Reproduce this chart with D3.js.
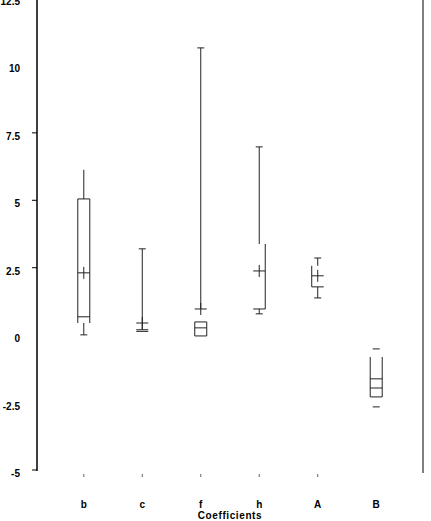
<!DOCTYPE html>
<html>
<head>
<meta charset="utf-8">
<script src="https://cdn.jsdelivr.net/npm/d3@7"></script>
<style>
  body { margin: 0; background: #fff; }
  text { font-family: "Liberation Sans", Arial, sans-serif; font-weight: bold; font-size: 10px; fill: #000; }
</style>
</head>
<body>
<svg id="chart"></svg>
<script>
const width = 431;
const height = 521;

// coefficient estimates
const categories = ["b", "c", "f", "h", "A", "B"];
const maxs    = [6.13, 3.2, 10.65, 6.98, 2.86, -0.51];
const q3s     = [5.05, 0.2, 0.49, 3.38, 2.57, -0.81];
const medians = [0.68, 0.17, 0.27, 0.97, 2.2, -1.62];
const q1s     = [0.45, 0.14, -0.03, 0.97, 1.79, -2.29];
const mins    = [0.01, 0.14, -0.03, 0.79, 1.38, -2.66];
const means   = [2.31, 0.45, 0.97, 2.38, 2.2, -1.96];

// which pieces of each box actually show up in the original
const drawnParts = [
  ["whHi", "top", "left", "right", "med", "mean", "whLo", "capLo"],
  ["capHi", "whHi", "top", "bot", "mean"],
  ["capHi", "whHiToMean", "top", "bot", "left", "right", "med", "mean"],
  ["capHi", "whHi", "right", "bot", "mean", "whLo", "capLo"],
  ["capHi", "whHi", "left", "bot", "mean", "whLo", "capLo"],
  ["capHi", "left", "right", "bot", "med", "meanBar", "capLo"]
];

const yTicks = [12.5, 10, 7.5, 5, 2.5, 0, -2.5, -5];
const yTickLabels = ["12.5", "10", "7.5", "5", "2.5", "0", "-2.5", "-5"];
const yTickMarks = [7.5, 5, 2.5, -5];
const xTickMarks = ["b", "c", "f", "h", "A"];
const xTitle = "Coefficients";

const left = 37, right = 423, bottom = 471;

const svg = d3.select("#chart")
  .attr("width", width)
  .attr("height", height);

const x = d3.scalePoint()
  .domain(categories)
  .range([left, right])
  .padding(0.8);

const y = d3.scaleLinear()
  .domain([-5, 12.5])
  .range([470, -2]);

// frame
svg.append("line")
  .attr("x1", left).attr("x2", left)
  .attr("y1", 0).attr("y2", bottom)
  .attr("stroke", "#000").attr("stroke-width", 1.5);

svg.append("line")
  .attr("x1", right).attr("x2", right)
  .attr("y1", 0).attr("y2", bottom + 2)
  .attr("stroke", "#000").attr("stroke-width", 1);

// y axis
svg.selectAll(".ytick")
  .data(yTickMarks)
  .enter().append("line")
  .attr("class", "ytick")
  .attr("x1", left - 5).attr("x2", left)
  .attr("y1", d => y(d)).attr("y2", d => y(d))
  .attr("stroke", "#000");

svg.selectAll(".ylabel")
  .data(yTicks)
  .enter().append("text")
  .attr("class", "ylabel")
  .attr("x", 20)
  .attr("y", d => y(d) + 7)
  .attr("text-anchor", "end")
  .text((d, i) => yTickLabels[i]);

// x axis
svg.selectAll(".xtick")
  .data(xTickMarks)
  .enter().append("line")
  .attr("class", "xtick")
  .attr("x1", d => x(d)).attr("x2", d => x(d))
  .attr("y1", 474).attr("y2", 477)
  .attr("stroke", "#666");

svg.selectAll(".xlabel")
  .data(categories)
  .enter().append("text")
  .attr("class", "xlabel")
  .attr("x", d => x(d))
  .attr("y", 507.5)
  .attr("text-anchor", "middle")
  .text(d => d);

svg.append("text")
  .attr("x", (left + right) / 2)
  .attr("y", 519)
  .attr("text-anchor", "middle")
  .style("letter-spacing", "0.6px")
  .text(xTitle);

// boxes
const half = 6, cap = 3.5, arm = 6;

categories.forEach((cat, i) => {
  const cx = x(cat);
  const g = svg.append("g").attr("stroke", "#222").attr("stroke-width", 1).attr("fill", "none");
  const parts = drawnParts[i];
  const seg = (x1, y1, x2, y2) => g.append("line")
    .attr("x1", x1).attr("y1", y1).attr("x2", x2).attr("y2", y2);

  parts.forEach(p => {
    if (p === "capHi") seg(cx - cap, y(maxs[i]), cx + cap, y(maxs[i]));
    if (p === "whHi") seg(cx, y(maxs[i]), cx, y(q3s[i]));
    if (p === "whHiToMean") seg(cx, y(maxs[i]), cx, y(means[i]));
    if (p === "top") seg(cx - half, y(q3s[i]), cx + half, y(q3s[i]));
    if (p === "bot") seg(cx - half, y(q1s[i]), cx + half, y(q1s[i]));
    if (p === "left") seg(cx - half, y(q3s[i]), cx - half, y(q1s[i]));
    if (p === "right") seg(cx + half, y(q3s[i]), cx + half, y(q1s[i]));
    if (p === "med") seg(cx - half, y(medians[i]), cx + half, y(medians[i]));
    if (p === "mean" || p === "meanBar") seg(cx - half, y(means[i]), cx + half, y(means[i]));
    if (p === "mean") seg(cx, y(means[i]) - arm, cx, y(means[i]) + arm);
    if (p === "whLo") seg(cx, y(q1s[i]), cx, y(mins[i]));
    if (p === "capLo") seg(cx - cap, y(mins[i]), cx + cap, y(mins[i]));
  });
});
</script>
</body>
</html>
